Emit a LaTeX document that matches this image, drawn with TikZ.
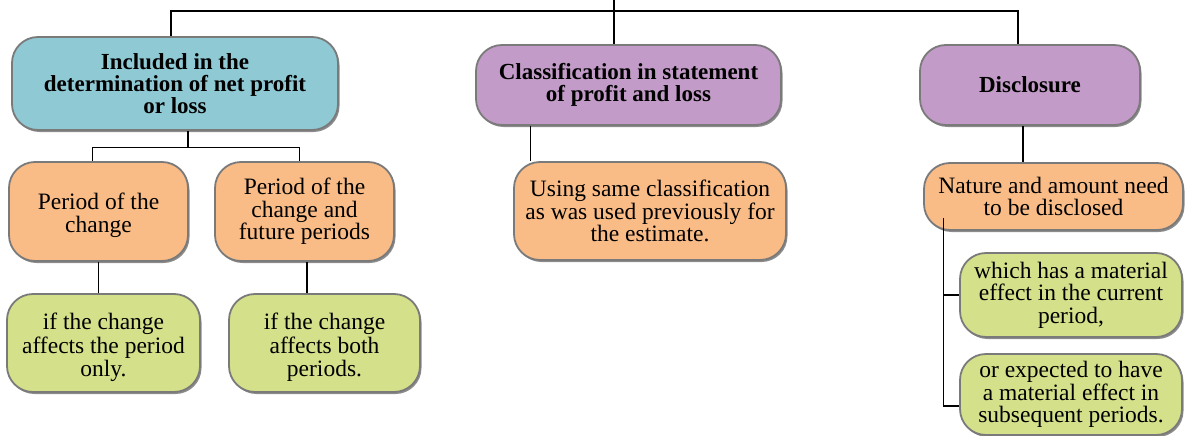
\documentclass[tikz,border=0pt]{standalone}
\usepackage{fontspec}
\setmainfont{Liberation Serif}
\usetikzlibrary{shadows,calc}
\definecolor{cblue}{HTML}{8FC9D4}
\definecolor{cpurple}{HTML}{C39BC8}
\definecolor{corange}{HTML}{F9BC87}
\definecolor{cgreen}{HTML}{D5E08A}
\definecolor{cedge}{HTML}{7A7A7A}
\newcommand{\lowtext}[1]{\raisebox{-5pt}[\height][\depth]{\begin{tabular}{@{}c@{}}#1\end{tabular}}}
\begin{document}
\begin{tikzpicture}[x=1pt,y=-1pt,
  box/.style={rounded corners=26pt, draw=cedge, line width=1.8pt, align=center, inner sep=0pt,
    font=\fontsize{23.5}{22.5}\selectfont,
    drop shadow={shadow xshift=1.5pt, shadow yshift=-2pt, opacity=0.45, fill=black}},
  title/.style={box, font=\fontsize{23}{22}\selectfont\bfseries},
  conn/.style={draw=black, line width=1.1pt}]
\useasboundingbox (0,0) rectangle (1185,436);
\node[title, fill=cblue, minimum width=326pt, minimum height=93pt] (A) at (175,83.5) {Included in the\\determination of net profit\\or loss};
\node[box, fill=corange, minimum width=179pt, minimum height=99pt] (B1) at (98.5,211.5) {\lowtext{Period of the\\change}};
\node[box, fill=corange, minimum width=179pt, minimum height=99pt] (B2) at (304.5,211.5) {Period of the\\change and\\future periods};
\node[box, fill=cgreen, minimum width=193pt, minimum height=98pt] (C1) at (103.5,343) {\lowtext{if the change\\affects the period\\only.}};
\node[box, fill=cgreen, minimum width=191pt, minimum height=98pt] (C2) at (324.5,343) {\lowtext{if the change\\affects both\\periods.}};
\node[title, fill=cpurple, minimum width=305pt, minimum height=80pt] (M) at (628.5,85) {Classification in statement\\of profit and loss};
\node[box, fill=corange, minimum width=272pt, minimum height=98pt] (M2) at (650,211) {Using same classification\\as was used previously for\\the estimate.};
\node[title, fill=cpurple, minimum width=220pt, minimum height=80pt] (R) at (1030,85) {Disclosure};
\node[box, fill=corange, minimum width=259pt, minimum height=67pt] (R2) at (1053.5,196.5) {Nature and amount need\\to be disclosed};
\node[box, fill=cgreen, minimum width=222pt, minimum height=84pt] (G1) at (1071,295) {which has a material\\effect in the current\\period,};
\node[box, fill=cgreen, minimum width=222pt, minimum height=81pt] (G2) at (1071,394.5) {or expected to have\\a material effect in\\subsequent periods.};
% connectors
\coordinate (top) at (614,0);
\coordinate (hub) at (614,11);
\draw[conn] ([xshift=-4pt]A.north) |- (hub) -| ([xshift=-12pt]R.north);
\draw[conn] (top) -- (top |- M.north);
\coordinate (ja) at ($(A.south)+(13,17)$);
\draw[conn] ([xshift=13pt]A.south) -- (ja);
\draw[conn] ([xshift=-6pt]B1.north) |- (ja) -| ([xshift=-5pt]B2.north);
\draw[conn] (B1.south) -- (B1.south |- C1.north);
\draw[conn] ([xshift=2.5pt]B2.south) -- ([xshift=2.5pt]B2.south |- C2.north);
\draw[conn] ([xshift=55pt]M.south west) -- ([xshift=55pt]M.south west |- M2.north);
\draw[conn] ([xshift=-7pt]R.south) -- ([xshift=-7pt]R.south |- R2.north);
\coordinate (s) at ($(R2.south west)+(20,-13)$);
\draw[conn] (s) |- (G1.west);
\draw[conn] (s) |- ([yshift=-11.5pt]G2.west);
\end{tikzpicture}
\end{document}
